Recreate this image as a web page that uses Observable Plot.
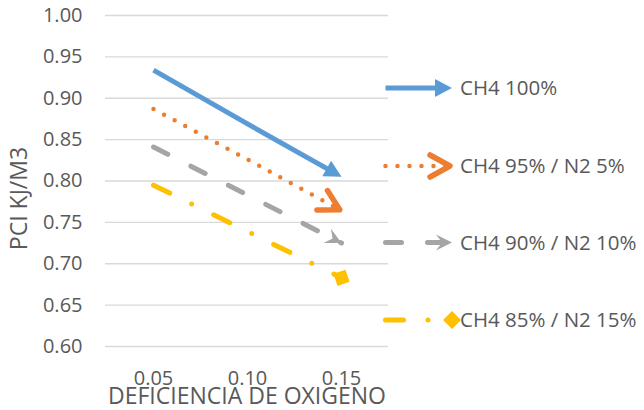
<!DOCTYPE html>
<html>
<head>
<meta charset="utf-8">
<script src="https://cdn.jsdelivr.net/npm/d3@7"></script>
<script src="https://cdn.jsdelivr.net/npm/@observablehq/plot@0.6"></script>
<style>
  html, body { margin: 0; padding: 0; background: #ffffff; }
  #chart { width: 644px; height: 410px; position: relative; }
  svg { overflow: visible; }
</style>
</head>
<body>
<div id="chart"></div>
<script>
// ---- data ----
const categories = ["0.05", "0.10", "0.15"];
const seriesNames = ["CH4 100%", "CH4 95% / N2 5%", "CH4 90% / N2 10%", "CH4 85% / N2 15%"];
const ch4_100 = [0.934, 0.869, 0.805];
const ch4_95  = [0.887, 0.826, 0.764];
const ch4_90  = [0.841, 0.783, 0.725];
const ch4_85  = [0.795, 0.739, 0.683];
const yTicks = [0.60, 0.65, 0.70, 0.75, 0.80, 0.85, 0.90, 0.95, 1.00];
const xTitle = "DEFICIENCIA DE OXIGENO";
const yTitle = "PCI KJ/M3";

// ---- styles ----
const textColor = "#595959";
const styles = [
  {color: "#5B9BD5", width: 5,   dash: undefined,          cap: "butt",  marker: "mk-blue"},
  {color: "#ED7D31", width: 4.5, dash: "0 12",             cap: "round", marker: "mk-orange"},
  {color: "#A5A5A5", width: 5,   dash: "16 26",            cap: "round", marker: "mk-gray"},
  {color: "#FFC000", width: 5,   dash: "18 24.5 0 24.5",   cap: "round", marker: "mk-yellow"}
];
const seriesValues = [ch4_100, ch4_95, ch4_90, ch4_85];
const series = seriesNames.map((name, k) => ({
  name,
  rows: categories.map((c, i) => ({x: c, y: seriesValues[k][i]})),
  ...styles[k]
}));

const svg = Plot.plot({
  width: 644,
  height: 410,
  marginTop: 15,
  marginBottom: 64,
  marginLeft: 105,
  marginRight: 256,
  style: {fontFamily: "'Open Sans', sans-serif", fontSize: "20px", color: textColor, background: "#ffffff", overflow: "visible"},
  x: {type: "point", domain: categories, padding: 0.5, label: null},
  y: {domain: [0.6, 1.0], label: null},
  marks: [
    Plot.gridY(yTicks, {stroke: "#d9d9d9", strokeOpacity: 1, strokeWidth: 1.3}),
    Plot.axisY(yTicks, {tickSize: 0, tickPadding: 23, tickFormat: d3.format(".2f"), label: null}),
    Plot.axisX({tickSize: 0, tickPadding: 24, label: null}),
    Plot.text([yTitle], {frameAnchor: "left", textAnchor: "middle", lineAnchor: "middle", rotate: -90, dx: -86, dy: 17.5, fontSize: 23, fill: textColor}),
    Plot.text([xTitle], {frameAnchor: "bottom", textAnchor: "middle", lineAnchor: "bottom", dy: 57, fontSize: 23, fill: textColor}),
    ...series.map(s => Plot.line(s.rows, {
      x: "x", y: "y", stroke: s.color, strokeWidth: s.width,
      strokeDasharray: s.dash, strokeLinecap: s.cap, strokeLinejoin: "round"
    }))
  ]
});
document.getElementById("chart").appendChild(svg);

// ---- line-end markers (arrows / diamond) ----
const root = d3.select(svg);
const defs = root.append("defs");
function marker(id) {
  return defs.append("marker")
    .attr("id", id)
    .attr("markerUnits", "userSpaceOnUse")
    .attr("orient", "auto")
    .attr("viewBox", "-30 -15 40 30")
    .attr("markerWidth", 40)
    .attr("markerHeight", 30)
    .attr("refX", 0).attr("refY", 0)
    .attr("overflow", "visible");
}
marker("mk-blue").append("path").attr("d", "M0,0L-17,-9L-17,9Z").attr("fill", styles[0].color).attr("stroke", "none");
marker("mk-orange").append("path").attr("d", "M-22,-11L-2,0L-22,11").attr("fill", "none")
  .attr("stroke", styles[1].color).attr("stroke-width", 5.5).attr("stroke-linecap", "round").attr("stroke-linejoin", "round");
marker("mk-gray").append("path").attr("d", "M0,0L-16,-8L-10,0L-16,8Z").attr("fill", styles[2].color).attr("stroke", "none");
marker("mk-yellow").append("path").attr("d", "M9,0L0,-9L-9,0L0,9Z").attr("fill", styles[3].color).attr("stroke", "none");

const lineGroups = svg.querySelectorAll('g[aria-label="line"]');
lineGroups.forEach((g, k) => {
  const p = g.querySelector("path");
  if (!p) return;
  p.setAttribute("marker-end", `url(#${styles[k].marker})`);
  if (k === 0) {
    const L = p.getTotalLength();
    p.setAttribute("stroke-dasharray", `${L - 9} ${L}`);
  }
});

// ---- legend (right side) ----
const legendY = [88, 166, 242.5, 320];
const lg = root.append("g").attr("class", "legend");
series.forEach((s, k) => {
  const y = legendY[k];
  const path = lg.append("path")
    .attr("d", `M385.5,${y}H452`)
    .attr("fill", "none")
    .attr("stroke", s.color)
    .attr("stroke-width", s.width)
    .attr("stroke-linecap", s.cap)
    .attr("marker-end", `url(#${s.marker})`);
  if (s.dash) path.attr("stroke-dasharray", s.dash);
  if (k === 0) path.attr("stroke-dasharray", "57 100");
  lg.append("text")
    .attr("x", 460).attr("y", y).attr("dy", "0.35em")
    .attr("text-anchor", "start")
    .attr("fill", textColor)
    .attr("font-size", 20.5)
    .attr("font-family", "'Open Sans', sans-serif")
    .text(s.name);
});
</script>
</body>
</html>
